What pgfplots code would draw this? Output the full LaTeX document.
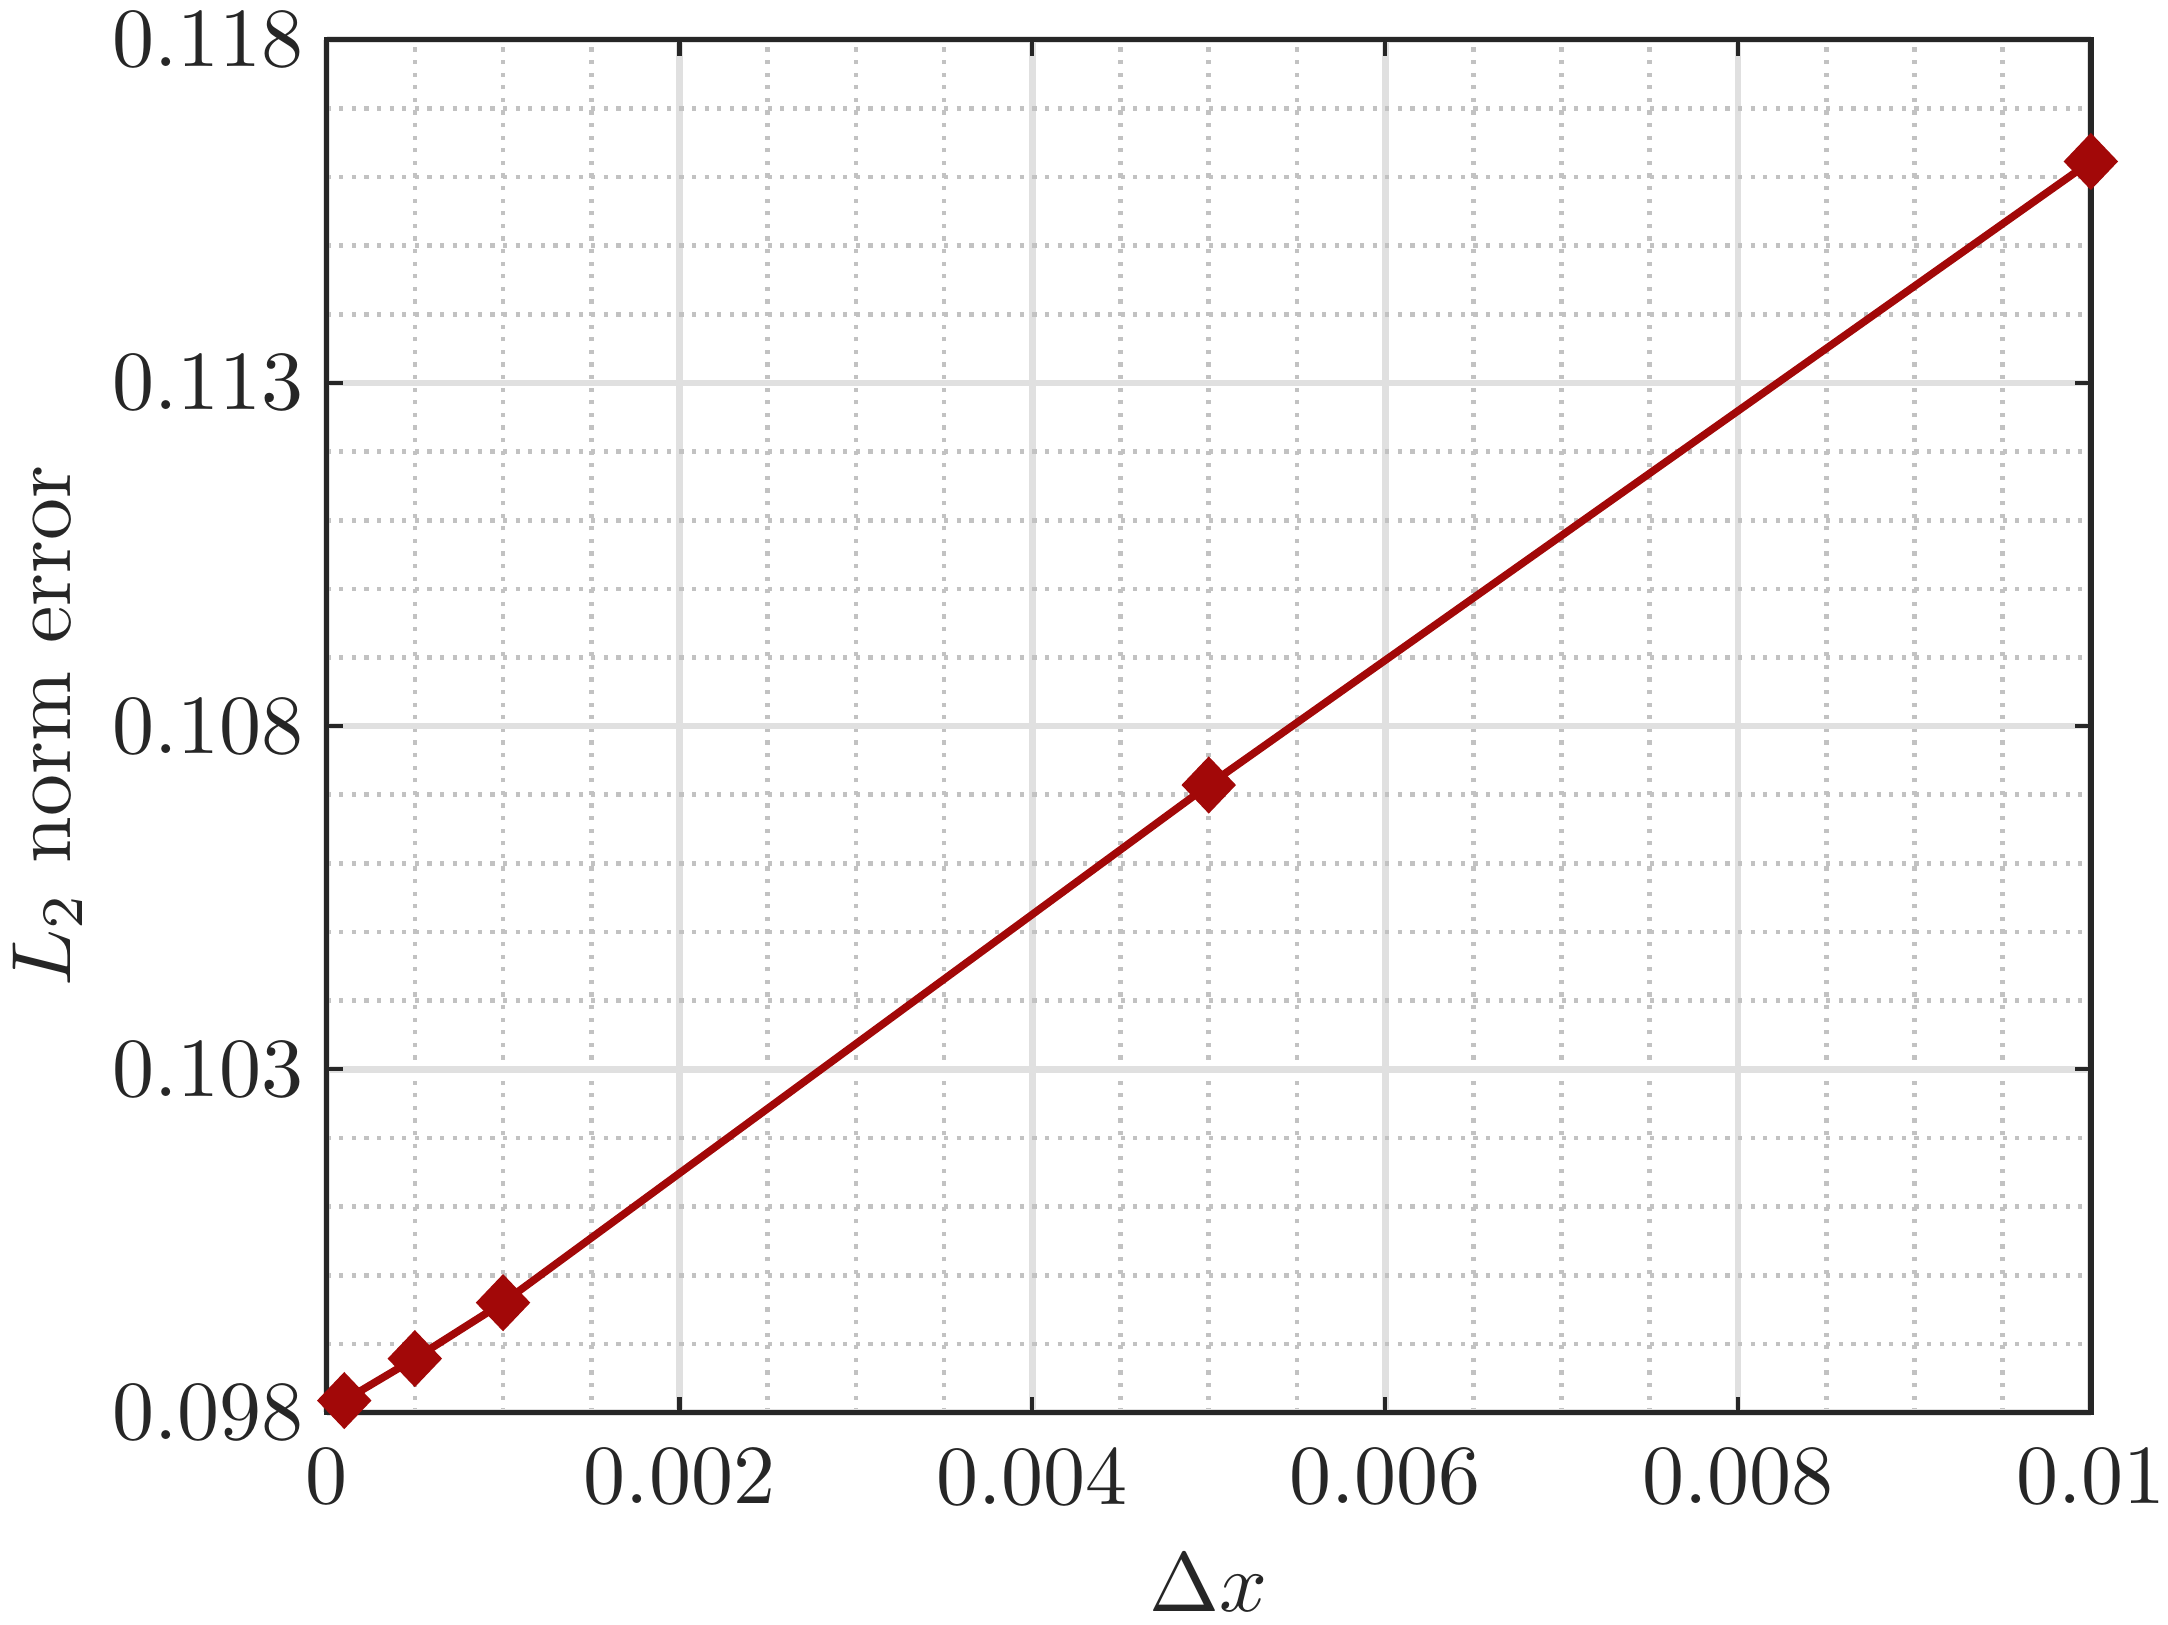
\documentclass[border=0pt]{standalone}
\usepackage{pgfplots}
\pgfplotsset{compat=1.18}
\definecolor{lineRed}{RGB}{162,8,8}
\definecolor{axGray}{RGB}{38,38,38}
\begin{document}
\begin{tikzpicture}
\begin{axis}[
    scale only axis,
    width=210pt, height=163.4pt,
    xmin=0, xmax=0.01, ymin=0.098, ymax=0.118,
    xtick={0,0.002,0.004,0.006,0.008,0.01},
    xticklabels={0,0.002,0.004,0.006,0.008,0.01},
    ytick={0.098,0.103,0.108,0.113,0.118},
    yticklabels={0.098,0.103,0.108,0.113,0.118},
    scaled ticks=false,
    minor x tick num=3, minor y tick num=4,
    grid=both,
    major grid style={line width=0.8pt, color=black!12},
    minor grid style={line width=0.55pt, color=black!24, dash pattern=on 0.5pt off 1pt},
    axis line style={line width=0.65pt, color=axGray},
    tick style={line width=0.5pt, color=axGray},
    major tick length=1.9pt, minor tick length=0pt,
    tick align=inside,
    ticklabel style={color=axGray},
    xticklabel style={inner xsep=0.3pt, yshift=-0.6pt},
    yticklabel style={inner ysep=1.3pt, xshift=0.8pt},
    xlabel={$\Delta x$}, ylabel={$L_2$ norm error},
    label style={color=axGray},
    xlabel style={inner sep=1.5pt, yshift=-0.7pt},
    ylabel style={inner sep=1.5pt, yshift=-1.5pt},
]
\addplot[color=lineRed, line width=0.9pt, mark=diamond*, mark size=2.75pt,
         mark options={fill=lineRed, draw=lineRed, xscale=1.27}]
  coordinates {
    (0.0001,0.098174)
    (0.0005,0.098785)
    (0.001,0.099600)
    (0.005,0.107142)
    (0.01,0.116227)
  };
\end{axis}
\end{tikzpicture}
\end{document}
